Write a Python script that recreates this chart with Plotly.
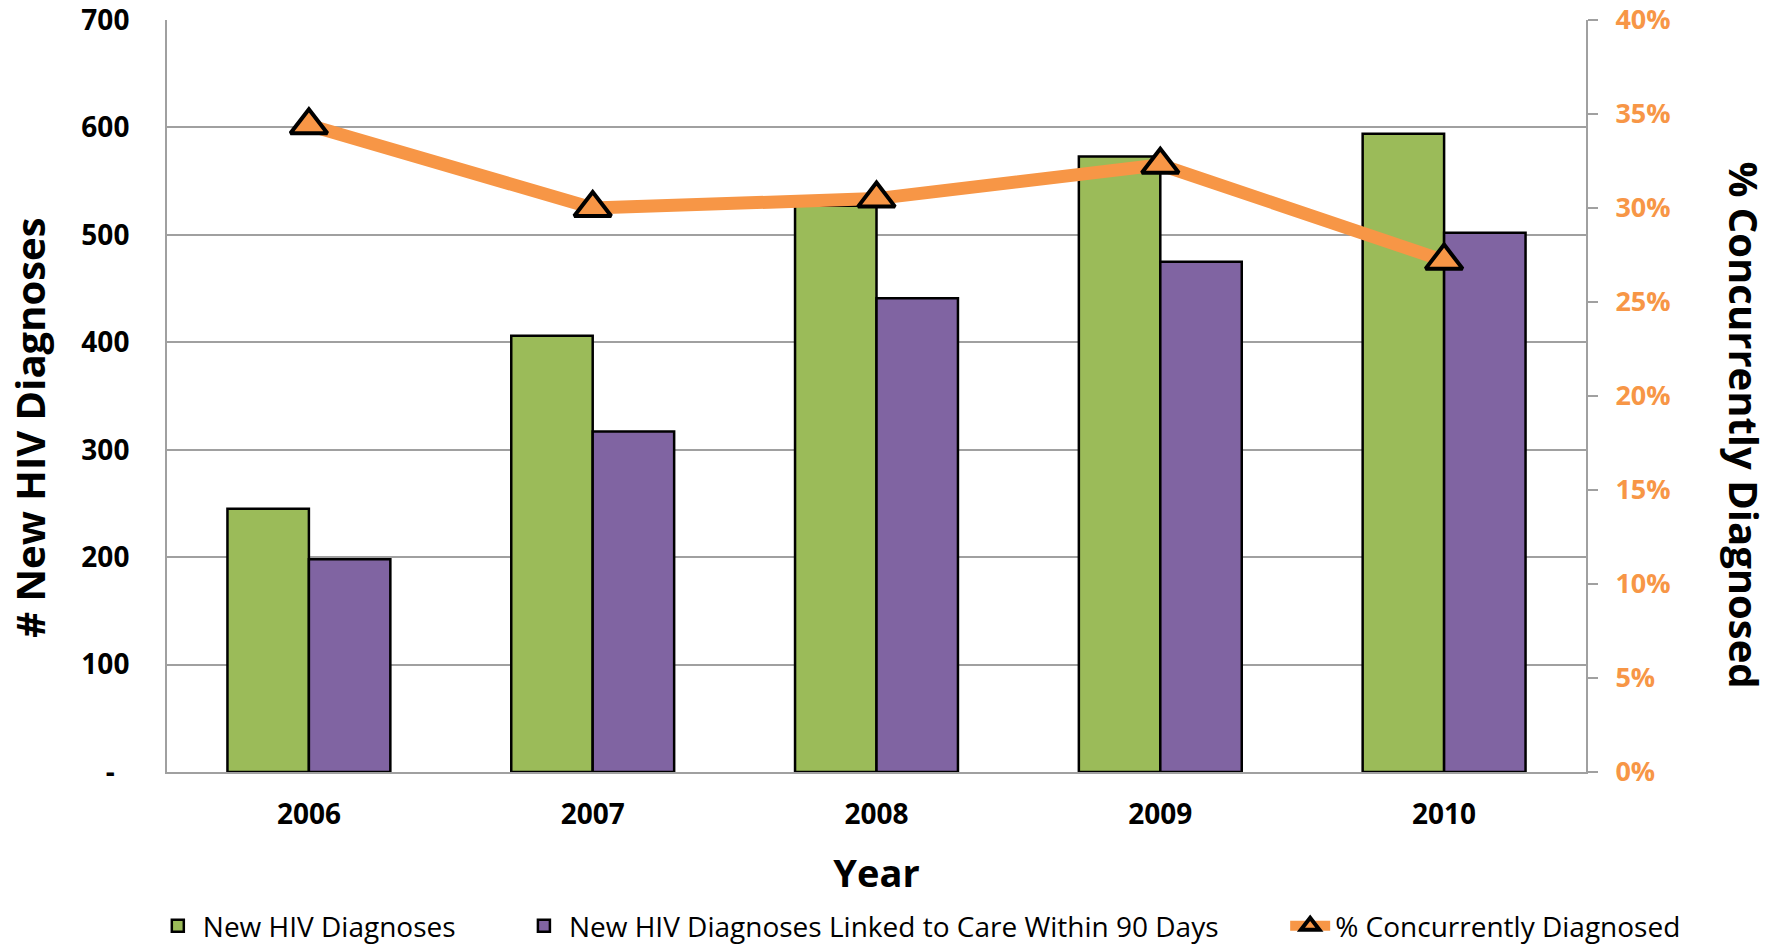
import plotly.graph_objects as go

years = ["2006", "2007", "2008", "2009", "2010"]
new_dx = [245, 406, 527, 573, 594]
linked_90 = [198, 317, 441, 475, 502]
pct_concurrent = [0.344, 0.300, 0.305, 0.323, 0.272]

left_tickvals = [0, 100, 200, 300, 400, 500, 600, 700]
left_ticktext = ["-\u00a0\u00a0", "100", "200", "300", "400", "500", "600", "700"]
right_tickvals = [0, 0.05, 0.10, 0.15, 0.20, 0.25, 0.30, 0.35, 0.40]
right_ticktext = ["0%", "5%", "10%", "15%", "20%", "25%", "30%", "35%", "40%"]

GREEN = "#9BBB59"
PURPLE = "#8064A2"
ORANGE = "#F79646"
GRID = "#A0A0A0"
FONT = "Open Sans"

fig = go.Figure()
fig.add_trace(go.Bar(
    x=years, y=new_dx, name="New HIV Diagnoses", legend="legend",
    marker=dict(color=GREEN, line=dict(color="black", width=2.5)),
))
fig.add_trace(go.Bar(
    x=years, y=linked_90, name="New HIV Diagnoses Linked to Care Within 90 Days",
    legend="legend2",
    marker=dict(color=PURPLE, line=dict(color="black", width=2.5)),
))
fig.add_trace(go.Scatter(
    x=years, y=pct_concurrent, name="% Concurrently Diagnosed", yaxis="y2",
    legend="legend3",
    mode="lines+markers",
    line=dict(color=ORANGE, width=13),
    marker=dict(symbol="triangle-up", size=32, color=ORANGE,
                line=dict(color="black", width=4)),
))

legend_font = dict(family=FONT, size=28, color="black")
def leg(x):
    return dict(orientation="h", xref="paper", x=x, xanchor="left",
                yref="paper", y=-0.205, yanchor="middle",
                font=legend_font, itemwidth=40, bgcolor="rgba(0,0,0,0)")

fig.update_layout(
    width=1779, height=944,
    margin=dict(l=167, r=193, t=20, b=172, autoexpand=False),
    paper_bgcolor="white", plot_bgcolor="white",
    font=dict(family=FONT, color="black"),
    barmode="group", bargap=0.426, bargroupgap=0,
    showlegend=True,
    legend=leg(-0.010),
    legend2=leg(0.248),
    legend3=leg(0.788),
    xaxis=dict(
        type="category", automargin=False,
        showline=True, linecolor=GRID, linewidth=2,
        ticks="", showgrid=False,
        tickfont=dict(family=FONT, size=28, color="black", weight="bold"),
        ticklabelstandoff=16,
        title=dict(text="Year", standoff=30,
                   font=dict(family=FONT, size=38, color="black", weight="bold")),
    ),
    yaxis=dict(
        range=[0, 700], tickvals=left_tickvals, ticktext=left_ticktext,
        automargin=False, ticklabeloverflow="allow",
        showline=True, linecolor=GRID, linewidth=2,
        showgrid=True, gridcolor=GRID, gridwidth=1.5,
        ticks="", ticklabelstandoff=30,
        tickfont=dict(family=FONT, size=28, color="black", weight="bold"),
        zeroline=False,
    ),
    yaxis2=dict(
        overlaying="y", side="right", range=[0, 0.4], automargin=False,
        ticklabeloverflow="allow",
        tickvals=right_tickvals, ticktext=right_ticktext,
        showline=True, linecolor=GRID, linewidth=2,
        showgrid=False, zeroline=False,
        ticks="outside", ticklen=10, tickcolor=GRID, tickwidth=2,
        ticklabelstandoff=12,
        tickfont=dict(family=FONT, size=27, color=ORANGE, weight="bold"),
    ),
    annotations=[
        dict(text="# New HIV Diagnoses", textangle=-90,
             xref="paper", yref="paper", x=-0.0965, y=0.458,
             xanchor="center", yanchor="middle", showarrow=False,
             font=dict(family=FONT, size=40, color="black", weight="bold")),
        dict(text="% Concurrently Diagnosed", textangle=90,
             xref="paper", yref="paper", x=1.112, y=0.461,
             xanchor="center", yanchor="middle", showarrow=False,
             font=dict(family=FONT, size=40, color="black", weight="bold")),
    ],
)

fig.write_html("out.html", config={"displayModeBar": False},
               post_script="document.body.style.margin='0';")
